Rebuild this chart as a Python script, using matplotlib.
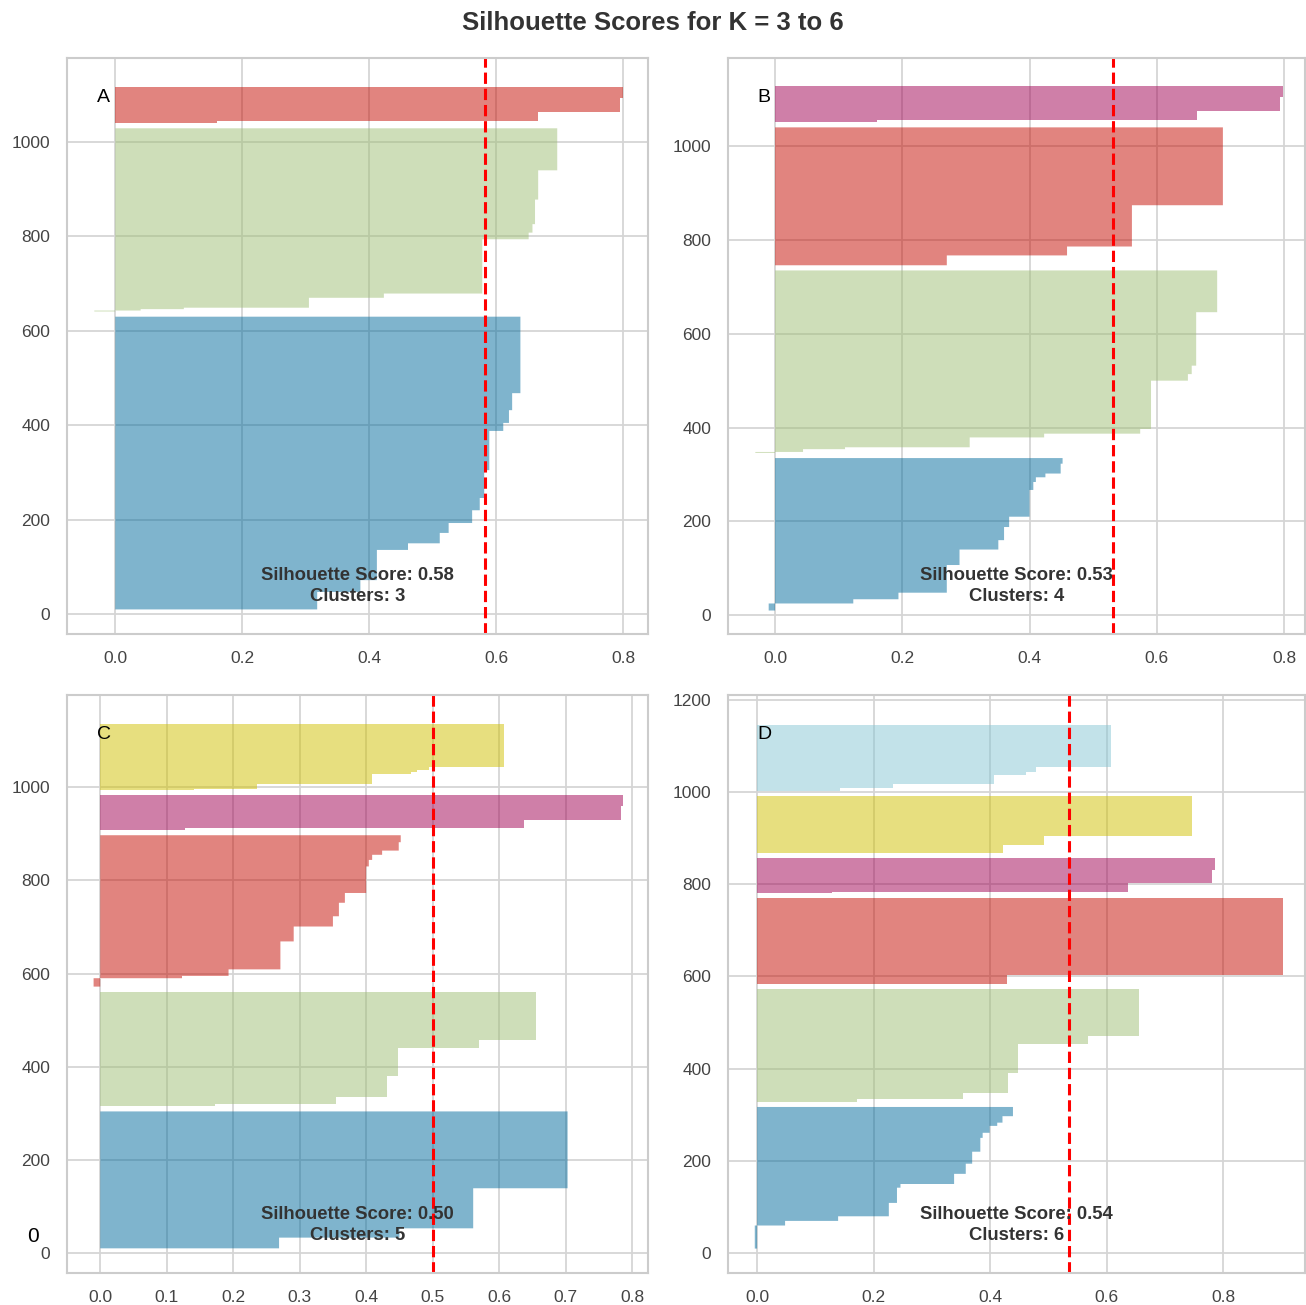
import matplotlib
matplotlib.use("Agg")
import matplotlib.pyplot as plt
import numpy as np

plt.rcParams['font.family'] = ['Liberation Sans', 'DejaVu Sans']

# sorted silhouette values per cluster, stored as (value, count) steps, bottom to top
A_values = [
    [0.318, 0.386, 0.412, 0.461, 0.511, 0.525, 0.562, 0.574, 0.581, 0.589, 0.611, 0.620, 0.625, 0.638],
    [-0.033, 0.04, 0.108, 0.305, 0.423, 0.578, 0.651, 0.657, 0.661, 0.666, 0.696],
    [0.161, 0.665, 0.795, 0.800],
]
A_counts = [
    [37, 25, 64, 14, 22, 21, 27, 26, 59, 83, 17, 27, 36, 163],
    [2, 3, 3, 21, 9, 115, 14, 18, 52, 62, 90],
    [5, 18, 31, 24],
]

B_values = [
    [-0.010, 0.123, 0.194, 0.270, 0.290, 0.351, 0.360, 0.368, 0.400, 0.406, 0.410, 0.425, 0.449, 0.452],
    [-0.031, 0.044, 0.110, 0.306, 0.423, 0.574, 0.591, 0.649, 0.655, 0.662, 0.695],
    [0.270, 0.459, 0.561, 0.704],
    [0.161, 0.664, 0.794, 0.799],
]
B_counts = [
    [15, 9, 14, 59, 33, 20, 28, 22, 57, 17, 10, 8, 21, 13],
    [2, 6, 4, 21, 8, 10, 103, 14, 18, 114, 90],
    [21, 19, 88, 167],
    [5, 18, 30, 25],
]

C_values = [
    [0.269, 0.45, 0.561, 0.703],
    [0.173, 0.354, 0.431, 0.448, 0.570, 0.656],
    [-0.010, 0.123, 0.193, 0.271, 0.291, 0.350, 0.359, 0.368, 0.400, 0.404, 0.409, 0.424, 0.449, 0.452],
    [0.128, 0.638, 0.783, 0.786],
    [0.141, 0.236, 0.409, 0.468, 0.477, 0.494, 0.608],
]
C_counts = [
    [23, 20, 86, 166],
    [5, 16, 43, 61, 18, 104],
    [18, 5, 14, 60, 32, 22, 29, 21, 57, 14, 11, 9, 18, 16],
    [4, 18, 30, 24],
    [3, 11, 20, 4, 4, 7, 93],
]

D_values = [
    [-0.004, 0.048, 0.139, 0.226, 0.240, 0.246, 0.338, 0.358, 0.369, 0.383, 0.387, 0.399, 0.412, 0.421, 0.439],
    [0.172, 0.354, 0.431, 0.447, 0.568, 0.655],
    [0.429, 0.902],
    [0.129, 0.637, 0.781, 0.786],
    [0.422, 0.492, 0.746],
    [0.142, 0.234, 0.406, 0.461, 0.478, 0.607],
]
D_counts = [
    [50, 10, 10, 29, 33, 8, 22, 22, 26, 30, 11, 15, 7, 14, 21],
    [6, 14, 43, 62, 18, 103],
    [20, 166],
    [4, 18, 29, 26],
    [17, 20, 89],
    [5, 10, 19, 7, 11, 90],
]

scores = [0.583, 0.531, 0.501, 0.536]
panel_labels = ["A", "B", "C", "D"]
colors = ["#006b9d", "#9fbf75", "#c50a00", "#a10053", "#d1c100", "#87c7d5"]

fig = plt.figure(figsize=(13.06, 13.05), dpi=100)
fig.text(0.5, 0.9825, "Silhouette Scores for K = 3 to 6", ha="center", va="center",
         fontsize=18.5, fontweight="bold", color="#333333")

positions = [
    [0.0513, 0.5142, 0.4449, 0.4414],
    [0.5574, 0.5142, 0.4418, 0.4414],
    [0.0513, 0.0245, 0.4449, 0.4429],
    [0.5574, 0.0245, 0.4418, 0.4429],
]
xlims = [(-0.076, 0.839), (-0.074, 0.833), (-0.05, 0.824), (-0.05, 0.94)]
ylims = [(-42, 1178), (-40, 1188), (-43, 1198), (-43, 1210)]
xsteps = [0.2, 0.2, 0.1, 0.2]

panels = [(A_values, A_counts), (B_values, B_counts), (C_values, C_counts), (D_values, D_counts)]

for i, (vals, counts) in enumerate(panels):
    ax = fig.add_axes(positions[i])
    ax.set_axisbelow(True)
    ax.grid(True, color="#d5d5d5", linewidth=1.3)
    for s in ax.spines.values():
        s.set_color("#cccccc")
        s.set_linewidth(1.5)

    y_lower = 10
    for j, (v, c) in enumerate(zip(vals, counts)):
        sil = np.repeat(v, c)
        y_upper = y_lower + len(sil)
        ax.fill_betweenx(np.arange(y_lower, y_upper), 0, sil, step="post",
                         facecolor=colors[j], edgecolor="none", alpha=0.5, linewidth=0)
        y_lower = y_upper + 10

    ax.axvline(scores[i], color="#ff0000", linestyle="--", linewidth=2.2)
    ax.text(0.5, 0.083, "Silhouette Score: %.2f\nClusters: %d" % (scores[i], len(vals)),
            transform=ax.transAxes, ha="center", va="center", fontsize=13.3,
            fontweight="bold", color="#333333", linespacing=1.35)
    ax.text(0.063, 0.932, panel_labels[i], transform=ax.transAxes, ha="center",
            va="center", fontsize=14, color="black")

    ax.set_xlim(*xlims[i])
    ax.set_ylim(*ylims[i])
    ax.set_xticks(np.arange(0, 0.81, xsteps[i]))
    ax.set_xticklabels(["%.1f" % t for t in np.arange(0, 0.81, xsteps[i])])
    ax.set_yticks(np.arange(0, ylims[i][1], 200))
    ax.tick_params(length=0, labelsize=12.5, labelcolor="#444444", pad=12)

fig.text(33 / 1306, 1 - 1237 / 1305, "0", ha="center", va="center", fontsize=15, color="black")

fig.savefig("out.png", dpi=100)
